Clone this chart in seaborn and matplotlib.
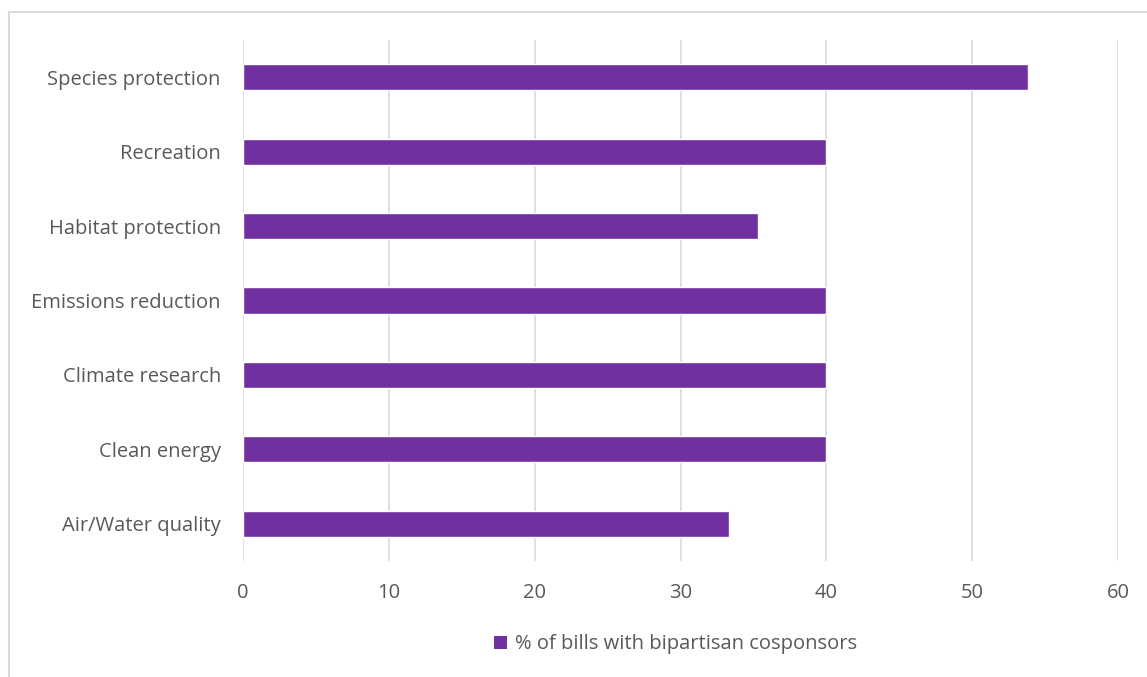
import matplotlib
matplotlib.use("Agg")
import matplotlib.pyplot as plt
import seaborn as sns
import pandas as pd
from matplotlib.lines import Line2D
from matplotlib.patches import Patch

categories = ["Species protection", "Recreation", "Habitat protection",
              "Emissions reduction", "Climate research", "Clean energy",
              "Air/Water quality"]
values = [53.8, 40.0, 35.3, 40.0, 40.0, 40.0, 33.3]
series_name = "% of bills with bipartisan cosponsors"
xticks = [0, 10, 20, 30, 40, 50, 60]

purple = "#7030A0"
grey_text = "#595959"
grid_col = "#D9D9D9"

sns.set_style("white")
plt.rcParams["font.family"] = ["Open Sans", "DejaVu Sans"]

df = pd.DataFrame({"cat": categories, "val": values})

fig = plt.figure(figsize=(11.47, 6.77), dpi=100)
ax = fig.add_axes([243/1147, 1-561/677, 875/1147, 521/677])

sns.barplot(data=df, y="cat", x="val", color=purple, width=0.35,
            saturation=1, ax=ax, zorder=3)

ax.set_xlim(0, 60)
ax.set_ylim(6.5, -0.5)
ax.set_xticks(xticks)
ax.set_xticklabels([str(t) for t in xticks])
ax.xaxis.grid(True, color=grid_col, linewidth=1.2, zorder=0)
ax.yaxis.grid(False)
for s in ax.spines.values():
    s.set_visible(False)
ax.set_xlabel("")
ax.set_ylabel("")
ax.tick_params(axis="x", length=0, pad=16, labelsize=14.5, labelcolor=grey_text)
ax.tick_params(axis="y", length=0, pad=16, labelsize=14.5, labelcolor=grey_text)

ax.legend(handles=[Patch(facecolor=purple, edgecolor="none", label=series_name)],
          loc="center", bbox_to_anchor=(0.494, -0.16), frameon=False,
          fontsize=14.5, labelcolor=grey_text, handlelength=0.65, handleheight=0.65,
          handletextpad=0.4)

# chart frame (only top and left visible in the crop)
fig.add_artist(Line2D([8.5/1147, 8.5/1147], [0, 1-11.5/677], color=grid_col, lw=1.5))
fig.add_artist(Line2D([8.5/1147, 1], [1-11.5/677, 1-11.5/677], color=grid_col, lw=1.5))

fig.savefig("out.png", dpi=100)
